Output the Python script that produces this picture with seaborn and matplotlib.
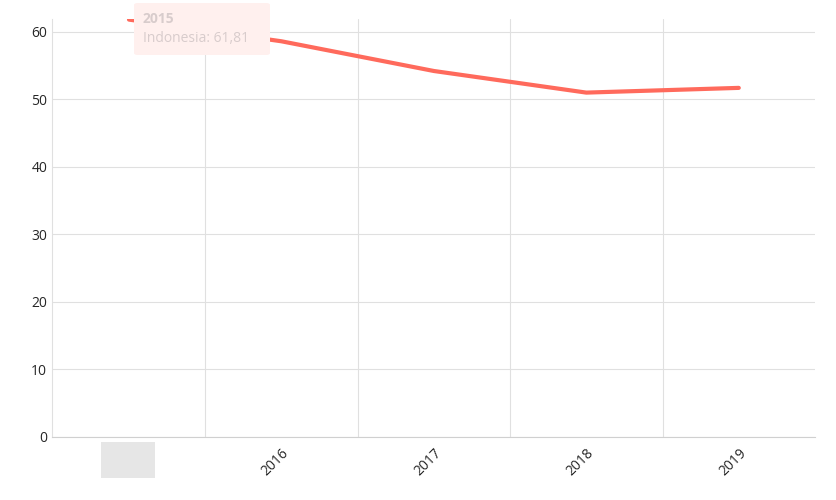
import numpy as np
import pandas as pd
import seaborn as sns
import matplotlib.pyplot as plt
from matplotlib.patches import FancyBboxPatch, Rectangle

years = ['2015', '2016', '2017', '2018', '2019']
values = [61.81, 58.6, 54.2, 51.0, 51.7]

df = pd.DataFrame({'x': np.arange(len(years)), 'y': values})

sns.set_style('white')
plt.rcParams['font.family'] = ['Open Sans', 'DejaVu Sans']

fig = plt.figure(figsize=(8.36, 5), dpi=100)
ax = fig.add_axes([52/836, 63/500, 763/836, 418/500])

sns.lineplot(data=df, x='x', y='y', color='#ff6a5c', linewidth=3, ax=ax, zorder=5)

ax.set_xlim(-0.505, 4.5)
ax.set_ylim(0, 61.9)
ax.set_yticks(range(0, 61, 10))
ax.set_xticks(range(len(years)))
ax.set_xticklabels(years, rotation=45, ha='right', rotation_mode='anchor', fontsize=10)
ax.tick_params(axis='y', labelsize=10, length=0)
ax.tick_params(axis='x', length=0, pad=6)
ax.set_xlabel('')
ax.set_ylabel('')

for v in range(0, 61, 10):
    ax.axhline(v, color='#e0e0e0', linewidth=0.8, zorder=0)
for g in [0.5, 1.5, 2.5, 3.5]:
    ax.axvline(g, color='#e0e0e0', linewidth=0.8, zorder=0)

for s in ['top', 'right']:
    ax.spines[s].set_visible(False)
ax.spines['left'].set_color('#e0e0e0')
ax.spines['bottom'].set_color('#d0d0d0')

# faded tooltip
fig.patches.append(FancyBboxPatch((134/836, 445/500), 136/836, 52/500, boxstyle='round,pad=0,rounding_size=0.004',
                                  transform=fig.transFigure, facecolor='#fff0ee', edgecolor='none', zorder=1))
fig.text(143/836, 481/500, '2015', fontsize=10, fontweight='bold', color='#d8cccc', va='center')
fig.text(143/836, 461/500, 'Indonesia: 61,81', fontsize=10, color='#d8cccc', va='center')
# category highlight
fig.patches.append(Rectangle((101/836, 22/500), 54/836, 36/500, transform=fig.transFigure,
                             facecolor='#e6e6e6', edgecolor='none', zorder=0))

fig.savefig('out.png', dpi=100)
